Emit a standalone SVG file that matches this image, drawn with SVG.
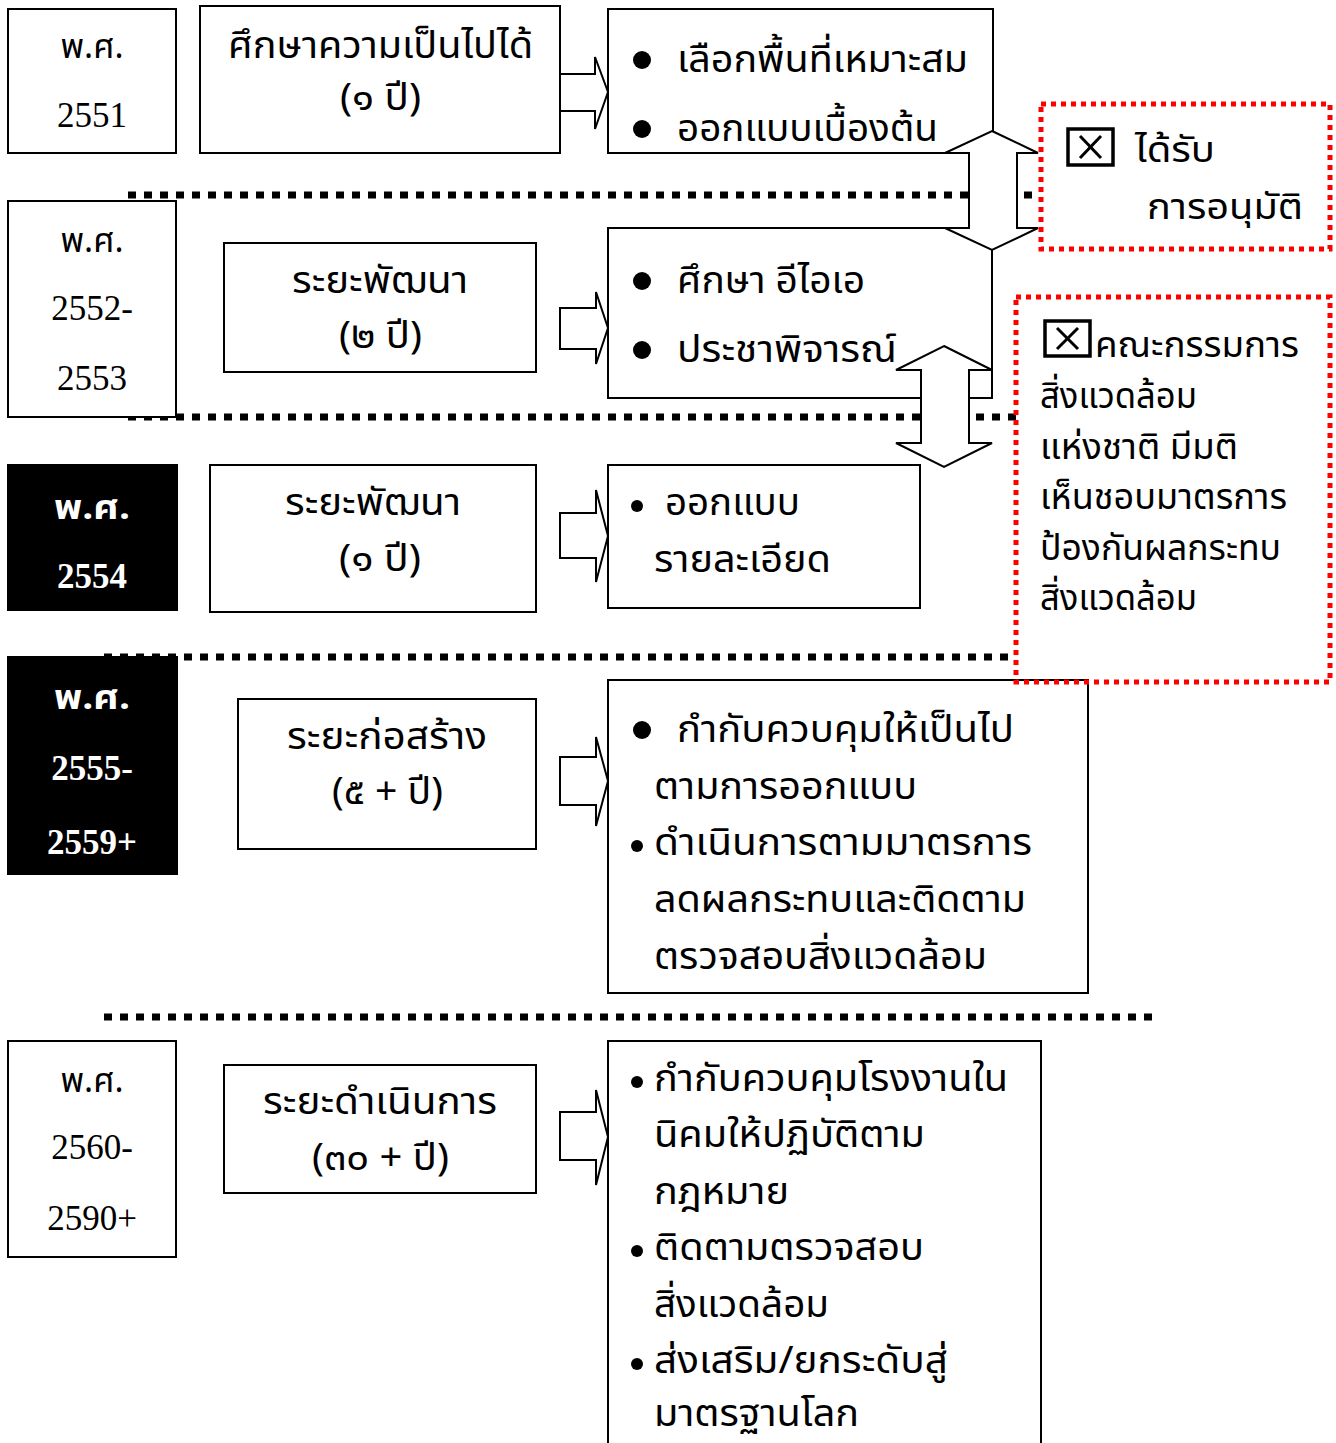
<svg xmlns="http://www.w3.org/2000/svg" width="1336" height="1443" viewBox="0 0 1336 1443">
<style>
.box{fill:#fff;stroke:#000;stroke-width:2}
.blk{fill:#000;stroke:#000;stroke-width:2}
.th{font-family:'Noto Sans Thai','Noto Serif Thai','Liberation Sans',sans-serif;font-size:38px;fill:#000}
.yr{font-size:34px}
.rb{font-size:36px}
.num{font-family:'Liberation Serif',serif;font-size:35px;fill:#000}
.wb{font-weight:bold;fill:#fff}
.mid{text-anchor:middle}
.arr{fill:#fff;stroke:#000;stroke-width:2;stroke-linejoin:miter}
.dot{stroke:#000;stroke-width:7;stroke-dasharray:8 8;fill:none}
.red{fill:none;stroke:#f00;stroke-width:5;stroke-dasharray:5 5}
.cb{fill:#fff;stroke:#000;stroke-width:3.5}
.x{stroke:#000;stroke-width:3}
</style>
<g id="separators">
<line class="dot" x1="128" y1="195" x2="1040" y2="195"/>
<line class="dot" x1="128" y1="417" x2="1016" y2="417"/>
<line class="dot" x1="104" y1="657" x2="1016" y2="657"/>
<line class="dot" x1="104" y1="1017" x2="1156" y2="1017"/>
</g>
<g id="year1"><rect class="box" x="8" y="9" width="168" height="144"/>
<text class="th yr mid" x="92" y="58">พ.ศ.</text><text class="num mid" x="92" y="127">2551</text></g>
<g id="year2"><rect class="box" x="8" y="201" width="168" height="216"/>
<text class="th yr mid" x="92" y="252">พ.ศ.</text><text class="num mid" x="92" y="320">2552-</text><text class="num mid" x="92" y="390">2553</text></g>
<g id="year3"><rect class="blk" x="8" y="465" width="169" height="145"/>
<text class="th yr mid wb" x="92" y="519" textLength="76" lengthAdjust="spacingAndGlyphs">พ.ศ.</text><text class="num mid wb" x="92" y="588">2554</text></g>
<g id="year4"><rect class="blk" x="8" y="657" width="169" height="217"/>
<text class="th yr mid wb" x="92" y="709" textLength="76" lengthAdjust="spacingAndGlyphs">พ.ศ.</text><text class="num mid wb" x="92" y="780">2555-</text><text class="num mid wb" x="92" y="854">2559+</text></g>
<g id="year5"><rect class="box" x="8" y="1041" width="168" height="216"/>
<text class="th yr mid" x="92" y="1092">พ.ศ.</text><text class="num mid" x="92" y="1159">2560-</text><text class="num mid" x="92" y="1230">2590+</text></g>

<g id="phase1"><rect class="box" x="200" y="6" width="360" height="147"/>
<text class="th" x="228" y="58" textLength="305" lengthAdjust="spacingAndGlyphs">ศึกษาความเป็นไปได้</text><text class="th" x="340" y="110" textLength="81" lengthAdjust="spacingAndGlyphs">(๑ ปี)</text></g>
<g id="phase2"><rect class="box" x="224" y="243" width="312" height="129"/>
<text class="th" x="292" y="293" textLength="176" lengthAdjust="spacingAndGlyphs">ระยะพัฒนา</text><text class="th" x="339" y="348" textLength="83" lengthAdjust="spacingAndGlyphs">(๒ ปี)</text></g>
<g id="phase3"><rect class="box" x="210" y="465" width="326" height="147"/>
<text class="th" x="285" y="515" textLength="176" lengthAdjust="spacingAndGlyphs">ระยะพัฒนา</text><text class="th" x="339" y="571" textLength="82" lengthAdjust="spacingAndGlyphs">(๑ ปี)</text></g>
<g id="phase4"><rect class="box" x="238" y="699" width="298" height="150"/>
<text class="th" x="287" y="749" textLength="200" lengthAdjust="spacingAndGlyphs">ระยะก่อสร้าง</text><text class="th" x="332" y="804" textLength="111" lengthAdjust="spacingAndGlyphs">(๕ + ปี)</text></g>
<g id="phase5"><rect class="box" x="224" y="1065" width="312" height="128"/>
<text class="th" x="263" y="1114" textLength="234" lengthAdjust="spacingAndGlyphs">ระยะดำเนินการ</text><text class="th" x="312" y="1170" textLength="137" lengthAdjust="spacingAndGlyphs">(๓๐ + ปี)</text></g>

<g id="result1"><rect class="box" x="608" y="9" width="385" height="144"/>
<circle cx="642" cy="60" r="9"/><text class="th" x="677" y="72" textLength="291" lengthAdjust="spacingAndGlyphs">เลือกพื้นที่เหมาะสม</text>
<circle cx="642" cy="129" r="9"/><text class="th" x="677" y="141" textLength="261" lengthAdjust="spacingAndGlyphs">ออกแบบเบื้องต้น</text></g>
<g id="result2"><rect class="box" x="608" y="228" width="384" height="170"/>
<circle cx="642" cy="281" r="9"/><text class="th" x="677" y="293" textLength="188" lengthAdjust="spacingAndGlyphs">ศึกษา อีไอเอ</text>
<circle cx="642" cy="350" r="9"/><text class="th" x="677" y="362" textLength="220" lengthAdjust="spacingAndGlyphs">ประชาพิจารณ์</text></g>
<g id="result3"><rect class="box" x="608" y="465" width="312" height="143"/>
<circle cx="637" cy="506" r="6"/><text class="th" x="665" y="515" textLength="135" lengthAdjust="spacingAndGlyphs">ออกแบบ</text>
<text class="th" x="654" y="572" textLength="177" lengthAdjust="spacingAndGlyphs">รายละเอียด</text></g>
<g id="result4"><rect class="box" x="608" y="680" width="480" height="313"/>
<circle cx="642" cy="730" r="9"/><text class="th" x="677" y="742" textLength="337" lengthAdjust="spacingAndGlyphs">กำกับควบคุมให้เป็นไป</text>
<text class="th" x="654" y="799" textLength="263" lengthAdjust="spacingAndGlyphs">ตามการออกแบบ</text>
<circle cx="637" cy="846" r="6"/><text class="th" x="654" y="855" textLength="378" lengthAdjust="spacingAndGlyphs">ดำเนินการตามมาตรการ</text>
<text class="th" x="654" y="912" textLength="372" lengthAdjust="spacingAndGlyphs">ลดผลกระทบและติดตาม</text>
<text class="th" x="654" y="969" textLength="333" lengthAdjust="spacingAndGlyphs">ตรวจสอบสิ่งแวดล้อม</text></g>
<g id="result5"><path class="box" d="M608,1443 V1041 H1041 V1443"/>
<circle cx="637" cy="1082" r="6"/><text class="th" x="654" y="1091" textLength="354" lengthAdjust="spacingAndGlyphs">กำกับควบคุมโรงงานใน</text>
<text class="th" x="654" y="1147" textLength="271" lengthAdjust="spacingAndGlyphs">นิคมให้ปฏิบัติตาม</text>
<text class="th" x="654" y="1204" textLength="135" lengthAdjust="spacingAndGlyphs">กฎหมาย</text>
<circle cx="637" cy="1251" r="6"/><text class="th" x="654" y="1260" textLength="270" lengthAdjust="spacingAndGlyphs">ติดตามตรวจสอบ</text>
<text class="th" x="654" y="1317" textLength="175" lengthAdjust="spacingAndGlyphs">สิ่งแวดล้อม</text>
<circle cx="637" cy="1364" r="6"/><text class="th" x="654" y="1373" textLength="294" lengthAdjust="spacingAndGlyphs">ส่งเสริม/ยกระดับสู่</text>
<text class="th" x="654" y="1426" textLength="205" lengthAdjust="spacingAndGlyphs">มาตรฐานโลก</text></g>

<g id="connectors">
<polygon class="arr" points="560,74 595,74 595,57 608,92 595,129 595,111 560,111"/>
<polygon class="arr" points="560,308 596,308 596,292 608,328 596,364 596,349 560,349"/>
<polygon class="arr" points="560,513 596,513 596,490 608,536 596,582 596,558 560,558"/>
<polygon class="arr" points="560,757 596,757 596,737 608,781 596,826 596,805 560,805"/>
<polygon class="arr" points="560,1112 596,1112 596,1090 608,1137 596,1185 596,1160 560,1160"/>
<polygon class="arr" points="992,131 1038,153 1017,153 1017,228 1038,228 992,250 945,228 969,228 969,153 945,153"/>
<polygon class="arr" points="944,346 992,370 969,370 969,443 992,443 944,467 896,443 921,443 921,370 896,370"/>
</g>

<g id="approval">
<rect class="red" x="1041" y="104" width="289" height="145"/>
<rect class="cb" x="1068" y="129" width="45" height="36"/>
<line class="x" x1="1080" y1="136" x2="1101" y2="158"/><line class="x" x1="1101" y1="136" x2="1080" y2="158"/>
<text class="th rb" x="1135" y="162" textLength="80" lengthAdjust="spacingAndGlyphs">ได้รับ</text>
<text class="th rb" x="1147" y="219" textLength="156" lengthAdjust="spacingAndGlyphs">การอนุมัติ</text>
</g>
<g id="committee">
<rect class="red" x="1016" y="297" width="314" height="385"/>
<rect class="cb" x="1045" y="321" width="45" height="35"/>
<line class="x" x1="1057" y1="328" x2="1078" y2="349"/><line class="x" x1="1078" y1="328" x2="1057" y2="349"/>
<text class="th rb" x="1095" y="357" textLength="204" lengthAdjust="spacingAndGlyphs">คณะกรรมการ</text>
<text class="th rb" x="1040" y="408" textLength="157" lengthAdjust="spacingAndGlyphs">สิ่งแวดล้อม</text>
<text class="th rb" x="1040" y="459" textLength="198" lengthAdjust="spacingAndGlyphs">แห่งชาติ  มีมติ</text>
<text class="th rb" x="1040" y="509" textLength="247" lengthAdjust="spacingAndGlyphs">เห็นชอบมาตรการ</text>
<text class="th rb" x="1040" y="560" textLength="241" lengthAdjust="spacingAndGlyphs">ป้องกันผลกระทบ</text>
<text class="th rb" x="1040" y="610" textLength="157" lengthAdjust="spacingAndGlyphs">สิ่งแวดล้อม</text>
</g>
</svg>
